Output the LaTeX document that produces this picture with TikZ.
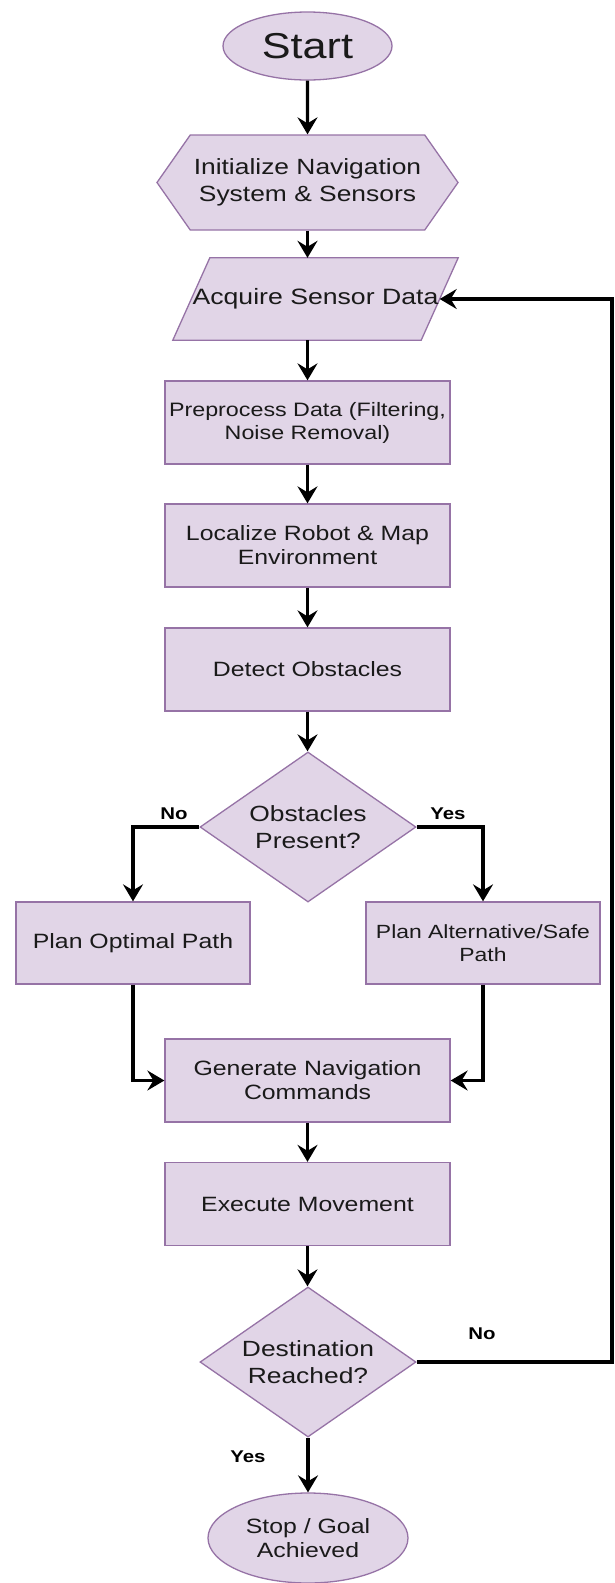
\documentclass[tikz,border=0pt]{standalone}
\usepackage{fontspec}
\setmainfont[FakeStretch=1.2]{Liberation Sans}
\usetikzlibrary{shapes.geometric,shapes.symbols,arrows.meta}
\pgfdeclarelayer{background}
\pgfsetlayers{background,main}
\definecolor{boxfill}{HTML}{E1D5E7}
\definecolor{boxline}{HTML}{9673A6}
\definecolor{ink}{HTML}{1A1A1A}
\begin{document}
\begin{tikzpicture}[x=1pt,y=-1pt,
  outline/.style={draw=boxline, fill=boxfill, line width=1.3pt},
  base/.style={outline, text=ink, align=center, inner sep=0pt},
  procbox/.style={base, rectangle, minimum width=285pt, minimum height=83pt},
  sidebox/.style={base, rectangle, minimum width=234pt, minimum height=82pt},
  decide/.style={base, diamond, aspect=1.44, minimum width=216pt, minimum height=150pt},
  term/.style={base, ellipse},
  fnorm/.style={font=\fontsize{20.7}{24}\selectfont},
  fsmall/.style={font=\fontsize{19.4}{23}\selectfont},
  fbig/.style={font=\fontsize{22}{27}\selectfont},
  lbl/.style={font=\fontsize{17}{20}\selectfont\bfseries, text=black, inner sep=0pt},
  arr/.style={draw=black, line width=3.2pt,
    -{Stealth[length=17pt,width=20pt,inset=6pt]}}
]
\useasboundingbox (0,0) rectangle (615,1583);

% main column
\node[term, minimum width=169pt, minimum height=68pt,
  font=\fontsize{36}{40}\selectfont] (start) at (307.5,46) {Start};
\node[base, signal, signal to=west and east, signal pointer angle=110,
  minimum width=301pt, minimum height=95pt, fbig] (init) at (307.5,182.5)
  {Initialize Navigation\\System \& Sensors};
% data input: parallelogram drawn behind a frameless node
\node[rectangle, inner sep=0pt, text=ink, minimum width=285pt,
  minimum height=82pt, font=\fontsize{22.2}{26}\selectfont] (acq)
  at (315.5,299) {Acquire Sensor Data};
\begin{pgfonlayer}{background}
  \draw[outline] (acq.south west) -- ([xshift=-37pt]acq.south east)
    -- (acq.north east) -- ([xshift=37pt]acq.north west) -- cycle;
\end{pgfonlayer}
\coordinate (acqin) at ([xshift=-18.5pt]acq.east);
\node[procbox, fsmall] (pre) at (307.5,422.5)
  {Preprocess Data (Filtering,\\Noise Removal)};
\node[procbox, fnorm] (loc) at (307.5,545.5)
  {Localize Robot \& Map\\Environment};
\node[procbox, fnorm] (det) at (307.5,669.5) {Detect Obstacles};
\node[decide, fbig] (obs) at (308,827) {Obstacles\\Present?};
\node[sidebox, fnorm] (opt) at (133,943) {Plan Optimal Path};
\node[sidebox, font=\fontsize{19.1}{23}\selectfont] (alt) at (483,943)
  {Plan Alternative/Safe\\Path};
\node[procbox, fnorm] (gen) at (307.5,1080.5)
  {Generate Navigation\\Commands};
\node[procbox, fnorm] (exe) at (307.5,1204) {Execute Movement};
\node[decide, fbig] (dest) at (308,1362) {Destination\\Reached?};
\node[term, minimum width=200pt, minimum height=90pt, fnorm] (stop)
  at (308,1538) {Stop / Goal\\Achieved};

% branch labels
\node[lbl] (lno) at (174,814) {No};
\node[lbl] (lyes) at (448,814) {Yes};
\node[lbl] (dno) at (482,1334) {No};
\node[lbl] (dyes) at (248,1457) {Yes};

% corner of the loop back to data acquisition
\coordinate (fb) at (612,1362);

% connectors
\draw[arr] (start) -- (init);
\draw[arr] (init.south) -- (init.south |- acq.north);
\draw[arr] (pre.north |- acq.south) -- (pre.north);
\draw[arr] (pre) -- (loc);
\draw[arr] (loc) -- (det);
\draw[arr] (det.south) -- (det.south |- obs.north);
\draw[arr] (obs.west) -| (opt.north);
\draw[arr] (obs.east) -| (alt.north);
\draw[arr] (opt.south) |- (gen.west);
\draw[arr] (alt.south) |- (gen.east);
\draw[arr] (gen) -- (exe);
\draw[arr] (exe.south) -- (exe.south |- dest.north);
\draw[arr] (dest) -- (stop);
\draw[arr] (dest.east) -- (fb) |- (acqin);
\end{tikzpicture}
\end{document}
